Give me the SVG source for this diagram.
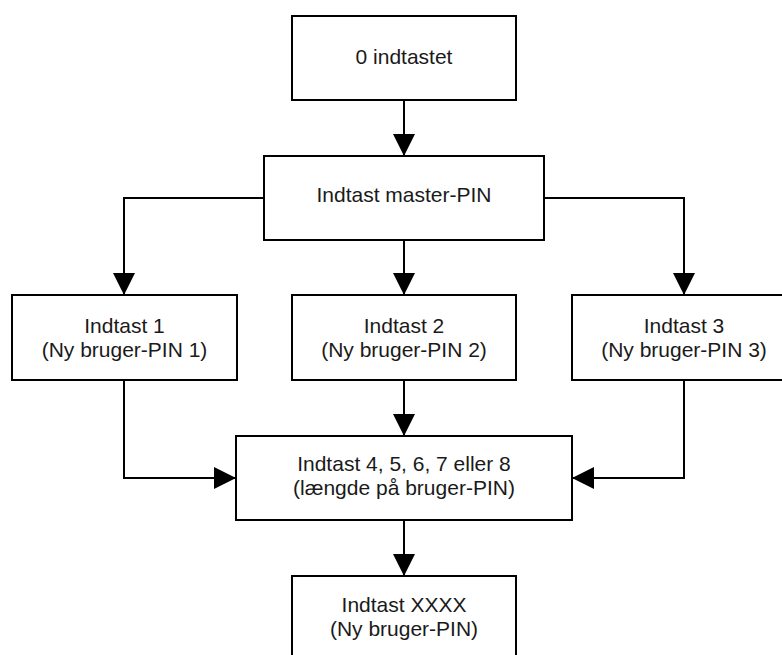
<svg xmlns="http://www.w3.org/2000/svg" width="782" height="655" viewBox="0 0 782 655">
  <style>
    .box { fill: #ffffff; stroke: #000000; stroke-width: 2; }
    .lbl { font-family: "Liberation Sans", Arial, sans-serif; font-size: 21px; fill: #1a1a1a; text-anchor: middle; }
    .edge { fill: none; stroke: #000000; stroke-width: 2; marker-end: url(#arrow); }
  </style>
  <defs>
    <marker id="arrow" markerUnits="userSpaceOnUse" markerWidth="22" markerHeight="22" refX="22" refY="11" orient="auto">
      <path d="M0,0 L22,11 L0,22 z" fill="#000000"/>
    </marker>
  </defs>
  <rect width="782" height="655" fill="#ffffff"/>
  <g id="connectors">
    <path class="edge" d="M404,100 L404,156"/>
    <path class="edge" d="M264,198 L124,198 L124,295"/>
    <path class="edge" d="M404,240 L404,295"/>
    <path class="edge" d="M544,198 L684,198 L684,295"/>
    <path class="edge" d="M124,380 L124,478 L236,478"/>
    <path class="edge" d="M404,380 L404,436"/>
    <path class="edge" d="M684,380 L684,478 L572,478"/>
    <path class="edge" d="M404,520 L404,576"/>
  </g>
  <g id="n0">
    <rect class="box" x="292" y="16" width="224" height="84"/>
    <text class="lbl" x="404" y="64">0 indtastet</text>
  </g>
  <g id="n1">
    <rect class="box" x="264" y="156" width="280" height="84"/>
    <text class="lbl" x="404" y="202">Indtast master-PIN</text>
  </g>
  <g id="n2">
    <rect class="box" x="12" y="295" width="225" height="85"/>
    <text class="lbl" x="124.5" y="333">Indtast 1</text>
    <text class="lbl" x="124.5" y="357">(Ny bruger-PIN 1)</text>
  </g>
  <g id="n3">
    <rect class="box" x="292" y="295" width="224" height="85"/>
    <text class="lbl" x="404" y="333">Indtast 2</text>
    <text class="lbl" x="404" y="357">(Ny bruger-PIN 2)</text>
  </g>
  <g id="n4">
    <rect class="box" x="572" y="295" width="224" height="85"/>
    <text class="lbl" x="684" y="333">Indtast 3</text>
    <text class="lbl" x="684" y="357">(Ny bruger-PIN 3)</text>
  </g>
  <g id="n5">
    <rect class="box" x="236" y="436" width="336" height="84"/>
    <text class="lbl" x="404" y="471">Indtast 4, 5, 6, 7 eller 8</text>
    <text class="lbl" x="404" y="495">(længde på bruger-PIN)</text>
  </g>
  <g id="n6">
    <rect class="box" x="292" y="576" width="224" height="84"/>
    <text class="lbl" x="404" y="612">Indtast XXXX</text>
    <text class="lbl" x="404" y="636">(Ny bruger-PIN)</text>
  </g>
</svg>
